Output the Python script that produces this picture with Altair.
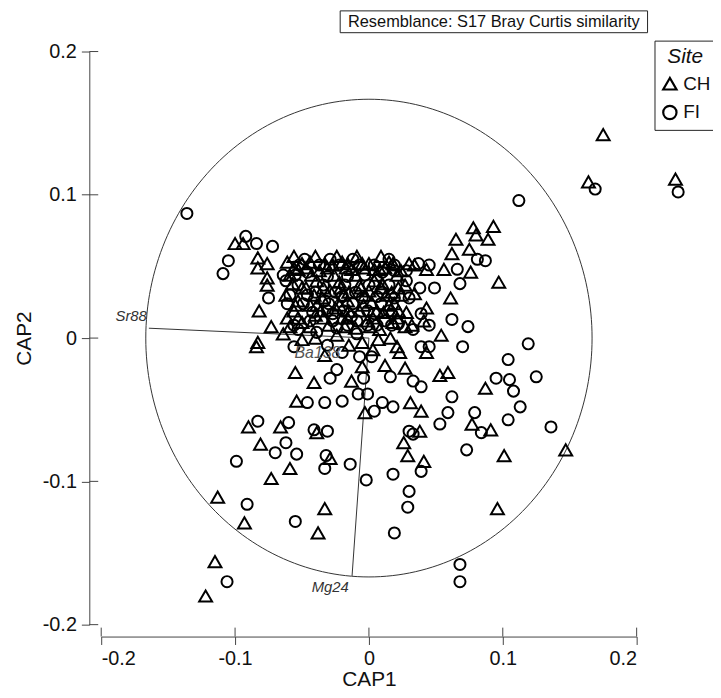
import altair as alt
import pandas as pd
import numpy as np

# ---- CAP scores -----------------------------------------------------------
ch_x = [0.175, 0.229, 0.164,
        -0.100, -0.094, -0.083, -0.083, -0.076, -0.076, -0.076, -0.082, -0.073, -0.064, -0.083, -0.084,
        0.078, 0.093, 0.089, 0.080, 0.065, 0.075, 0.062, 0.076, 0.097, 0.056, 0.061, 0.008, 0.004, 0.043,
        0.007, 0.021, 0.023, 0.043, 0.012, -0.033, -0.005, 0.027,
        -0.055, -0.041, -0.013, -0.054, -0.003, 0.031, 0.039, 0.053, 0.059, 0.087,
        -0.090, -0.066, -0.039, -0.081, 0.038, 0.026, 0.029, 0.041, 0.077, 0.091, 0.101, 0.147,
        -0.029, -0.059, -0.073, -0.113, -0.033, -0.093, -0.038, 0.096, -0.115, -0.122,
        -0.061, -0.053, -0.044, -0.037, -0.027, -0.020, -0.013, -0.005, 0.004, 0.015, 0.024, 0.034, 0.043,
        -0.057, -0.047, -0.039, -0.029, -0.022, -0.015, -0.007, 0.000, 0.010, 0.017, 0.027, 0.034,
        -0.053, -0.044, -0.035, -0.025, -0.016, -0.007, 0.002, 0.011, 0.019, 0.028,
        -0.061, -0.050, -0.040, -0.030, -0.020, -0.010, -0.001, 0.008, 0.018,
        -0.050, -0.040, -0.024, -0.015, -0.005, 0.003, 0.016, 0.032, 0.054, 0.041,
        -0.056, -0.040, -0.024, -0.009, 0.009,
        -0.059, -0.043, -0.026, -0.010, 0.006, 0.021,
        -0.062, -0.041, -0.019, -0.003, 0.013, 0.024,
        -0.056, -0.036, -0.015, 0.006, 0.022,
        -0.059, -0.044, -0.018, 0.001, 0.027,
        -0.050, -0.033, -0.016, 0.000, 0.018, 0.030,
        -0.056, -0.047, -0.031, -0.017, -0.004, 0.012,
        -0.050, -0.034, -0.021, -0.006, 0.009, 0.022,
        -0.055, -0.039, -0.022, -0.004, 0.015,
        -0.053, -0.034, -0.016, 0.003, 0.021]
ch_y = [0.142, 0.111, 0.109,
        0.066, 0.066, 0.056, 0.049, 0.052, 0.042, 0.037, 0.019, 0.008, 0.003, -0.003, -0.006,
        0.077, 0.078, 0.069, 0.072, 0.069, 0.062, 0.059, 0.046, 0.039, 0.048, 0.028, 0.048, 0.040, 0.021,
        -0.001, -0.006, -0.010, -0.010, -0.019, -0.012, -0.020, -0.021,
        -0.024, -0.031, -0.030, -0.044, -0.052, -0.045, -0.051, -0.026, -0.024, -0.035,
        -0.062, -0.062, -0.066, -0.074, -0.065, -0.073, -0.082, -0.086, -0.060, -0.064, -0.082, -0.078,
        -0.084, -0.091, -0.098, -0.111, -0.119, -0.129, -0.136, -0.119, -0.156, -0.180,
        0.053, 0.048, 0.053, 0.047, 0.051, 0.053, 0.048, 0.052, 0.048, 0.053, 0.047, 0.051, 0.048,
        0.038, 0.035, 0.040, 0.033, 0.039, 0.032, 0.037, 0.033, 0.038, 0.032, 0.037, 0.031,
        0.026, 0.023, 0.028, 0.021, 0.026, 0.019, 0.025, 0.018, 0.024, 0.018,
        0.014, 0.011, 0.016, 0.009, 0.014, 0.007, 0.012, 0.006, 0.011,
        -0.001, 0.000, 0.002, -0.005, -0.003, -0.008, 0.000, 0.009, 0.002, 0.012,
        0.057, 0.057, 0.057, 0.057, 0.057,
        0.044, 0.044, 0.044, 0.044, 0.044, 0.044,
        0.030, 0.030, 0.030, 0.030, 0.030, 0.030,
        0.019, 0.019, 0.019, 0.019, 0.019,
        0.008, 0.008, 0.008, 0.008, 0.008,
        0.052, 0.052, 0.052, 0.052, 0.052, 0.052,
        0.049, 0.049, 0.049, 0.049, 0.049, 0.049,
        0.035, 0.035, 0.035, 0.035, 0.035, 0.035,
        0.023, 0.023, 0.023, 0.023, 0.023,
        0.014, 0.014, 0.014, 0.014, 0.014]

fi_x = [-0.136, 0.112, 0.169, 0.231,
        -0.092, -0.084, -0.072, -0.105, -0.109, -0.075, -0.056,
        0.087, 0.081, 0.066, 0.068, 0.049, 0.038, 0.028, 0.019, 0.045, 0.037, 0.062, 0.074, 0.045,
        0.033, 0.022, 0.030, 0.039, 0.070, 0.119, 0.104, 0.039, 0.045, 0.002, -0.007,
        -0.064, -0.055, -0.046, -0.031, -0.016, -0.003, 0.010, -0.059, -0.046, -0.033, -0.020, -0.005,
        0.006, 0.019, -0.042, -0.027, -0.013, 0.004, 0.017, -0.053, -0.039, -0.024, -0.009, 0.006,
        -0.031, -0.020,
        -0.029, -0.024, -0.004, 0.016, 0.033, 0.039, 0.095, 0.105, 0.125, 0.108, 0.113, 0.104,
        0.062, 0.059, 0.053, 0.079, 0.084, 0.073, 0.136, -0.046, -0.033, -0.020, -0.008, -0.001,
        0.010, 0.018, 0.004, -0.083, -0.060, -0.041, -0.031, -0.062, -0.070, -0.054, -0.099, -0.032,
        -0.033, -0.014, -0.002, 0.018, 0.039, 0.030, 0.033, 0.030, 0.029, 0.019, -0.091, -0.055,
        0.068, 0.068, -0.106,
        -0.052, -0.037, -0.022, -0.007, 0.004, 0.019,
        -0.053, -0.034, -0.018, 0.000, 0.015,
        -0.061, -0.049, -0.030, -0.012, 0.009,
        -0.044, -0.027, -0.009, 0.012,
        -0.062, 0.028,
        -0.048, -0.029, -0.012, 0.015,
        -0.040, -0.025, -0.010, 0.010,
        -0.031, -0.019, -0.001, 0.015,
        -0.056, -0.016, -0.001, 0.017]
fi_y = [0.087, 0.096, 0.104, 0.102,
        0.071, 0.066, 0.064, 0.054, 0.045, 0.028, -0.006,
        0.054, 0.055, 0.048, 0.038, 0.035, 0.035, 0.047, 0.047, 0.051, 0.052, 0.013, 0.008, 0.009,
        0.006, 0.010, 0.028, 0.017, -0.006, -0.004, -0.015, -0.006, -0.006, -0.013, -0.013,
        0.044, 0.044, 0.046, 0.043, 0.043, 0.044, 0.046, 0.030, 0.030, 0.026, 0.029, 0.028,
        0.029, 0.028, 0.018, 0.017, 0.015, 0.017, 0.017, 0.006, 0.004, 0.007, 0.003, 0.009,
        -0.005, -0.010,
        -0.028, -0.022, -0.028, -0.027, -0.030, -0.034, -0.028, -0.029, -0.027, -0.037, -0.048, -0.057,
        -0.041, -0.052, -0.060, -0.052, -0.066, -0.078, -0.062, -0.045, -0.045, -0.044, -0.039, -0.039,
        -0.045, -0.048, -0.051, -0.058, -0.059, -0.064, -0.065, -0.073, -0.080, -0.081, -0.086, -0.082,
        -0.091, -0.088, -0.099, -0.095, -0.093, -0.065, -0.067, -0.107, -0.118, -0.136, -0.116, -0.128,
        -0.158, -0.170, -0.170,
        0.051, 0.051, 0.051, 0.051, 0.051, 0.051,
        0.037, 0.037, 0.037, 0.037, 0.037,
        0.024, 0.024, 0.024, 0.024, 0.024,
        0.012, 0.012, 0.012, 0.012,
        0.040, 0.040,
        0.055, 0.055, 0.055, 0.055,
        0.032, 0.032, 0.032, 0.032,
        0.019, 0.019, 0.019, 0.019,
        0.009, 0.009, 0.009, 0.009]

# vectors (end points) and their labels
vec_names = ["Sr88", "Mg24"]
vec_x = [-0.1644, -0.0126]
vec_y = [0.0069, -0.1660]
ba_label = "Ba138"
ba_x = [-0.0556]
ba_y = [-0.0104]

circle_radius = 0.1667
tick_values = [-0.2, -0.1, 0, 0.1, 0.2]
resemblance = "Resemblance: S17 Bray Curtis similarity"
sites = ["CH", "FI"]
shapes = ["triangle-up", "circle"]

FONT = "Liberation Sans"
W, H = 540, 578

ch = pd.DataFrame({"CAP1": ch_x, "CAP2": ch_y, "Site": "CH"})
fi = pd.DataFrame({"CAP1": fi_x, "CAP2": fi_y, "Site": "FI"})

theta = np.linspace(0, 2 * np.pi, 241)
circ = pd.DataFrame({"CAP1": circle_radius * np.cos(theta),
                     "CAP2": circle_radius * np.sin(theta),
                     "i": np.arange(len(theta))})

vec = pd.DataFrame({"name": vec_names, "x0": 0.0, "y0": 0.0, "x1": vec_x, "y1": vec_y})
ticks = pd.DataFrame({"v": tick_values})

xs = alt.Scale(domain=[-0.2, 0.2], nice=False, zero=False)
ys = alt.Scale(domain=[-0.2, 0.2], nice=False, zero=False)

lab_expr = "datum.value == 0 ? '0' : (datum.value < 0 ? '-' : '') + format(abs(datum.value), '.1f')"

x_axis = alt.Axis(values=tick_values, labelExpr=lab_expr, offset=12, grid=False,
                  title="CAP1", titlePadding=0, labelPadding=4)
y_axis = alt.Axis(values=tick_values, labelExpr=lab_expr, offset=12, grid=False,
                  title="CAP2", titlePadding=8, labelPadding=5)


def X(f):
    return alt.X(f, scale=xs, axis=x_axis)


def Y(f):
    return alt.Y(f, scale=ys, axis=y_axis)


legend = alt.Legend(title="Site", orient="none", legendX=558, legendY=-11,
                    strokeColor="#222", padding=6, titleFontStyle="italic",
                    titleFontWeight="normal", titleFontSize=21, titleFont=FONT,
                    titleColor="#111", titleAnchor="middle", titlePadding=7,
                    labelFont=FONT, labelFontSize=19, labelColor="#111",
                    symbolSize=180, symbolStrokeWidth=2.2, symbolStrokeColor="black",
                    symbolFillColor="transparent", rowPadding=7, labelOffset=4)
shape_enc = alt.Shape("Site:N", scale=alt.Scale(domain=sites, range=shapes), legend=legend)

circle_layer = alt.Chart(circ).mark_line(color="#333", strokeWidth=1).encode(
    x=X("CAP1:Q"), y=Y("CAP2:Q"), order="i:Q")

vec_layer = alt.Chart(vec).mark_rule(color="#333", strokeWidth=1).encode(
    x=X("x0:Q"), y=Y("y0:Q"), x2="x1:Q", y2="y1:Q")

ch_layer = alt.Chart(ch).mark_point(filled=False, strokeWidth=2, color="black", opacity=1,
                                    size=170).encode(x=X("CAP1:Q"), y=Y("CAP2:Q"), shape=shape_enc)
fi_layer = alt.Chart(fi).mark_point(filled=False, strokeWidth=2, color="black", opacity=1,
                                    size=125).encode(x=X("CAP1:Q"), y=Y("CAP2:Q"), shape=shape_enc)

sr = vec[vec.name == "Sr88"]
mg = vec[vec.name == "Mg24"]
sr_label = alt.Chart(sr).mark_text(font=FONT, fontStyle="italic", fontSize=15, color="#333",
                                   align="right", dx=-2, dy=-12).encode(
    x=X("x1:Q"), y=Y("y1:Q"), text="name:N")
mg_label = alt.Chart(mg).mark_text(font=FONT, fontStyle="italic", fontSize=15, color="#333",
                                   align="center", dx=-22, dy=11).encode(
    x=X("x1:Q"), y=Y("y1:Q"), text="name:N")
ba_layer = alt.Chart(pd.DataFrame({"x": ba_x, "y": ba_y, "t": [ba_label]})).mark_text(
    font=FONT, fontStyle="italic", fontSize=16, color="#555", align="left").encode(
    x=X("x:Q"), y=Y("y:Q"), text="t:N")

ytick_in = alt.Chart(ticks).mark_rule(color="#444").encode(
    y=Y("v:Q"), x=alt.value(-12), x2=alt.value(-3))
xtick_in = alt.Chart(ticks).mark_rule(color="#444").encode(
    x=X("v:Q"), y=alt.value(H + 3), y2=alt.value(H + 12))

box_df = pd.DataFrame({"t": [resemblance]})
box = alt.Chart(box_df).mark_rect(fill="white", stroke="#222", strokeWidth=1).encode(
    x=alt.value(241), x2=alt.value(551), y=alt.value(-41), y2=alt.value(-19))
box_text = alt.Chart(box_df).mark_text(font=FONT, fontSize=16.5, color="#111").encode(
    x=alt.value(396), y=alt.value(-30), text="t:N")

chart = alt.layer(circle_layer, vec_layer, ch_layer, fi_layer, sr_label, mg_label, ba_layer,
                  ytick_in, xtick_in, box, box_text).properties(
    width=W, height=H,
    autosize=alt.AutoSizeParams(type="none"),
    padding={"left": 94, "top": 41, "right": 77, "bottom": 63},
).configure_view(stroke=None).configure_axis(
    domainColor="#444", tickColor="#444", tickSize=8,
    labelFont=FONT, labelFontSize=20, labelColor="#111",
    titleFont=FONT, titleFontSize=21, titleFontWeight="normal", titleColor="#111",
)

chart.save("out.html", embed_options={"renderer": "svg", "actions": False})
